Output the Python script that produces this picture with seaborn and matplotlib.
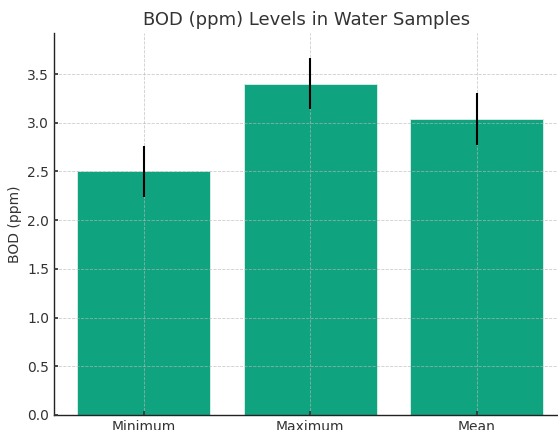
import pandas as pd
import matplotlib
matplotlib.use("Agg")
import matplotlib.pyplot as plt
import seaborn as sns

# data
stats = ["Minimum", "Maximum", "Mean"]
bod_ppm = [2.5, 3.4, 3.04]
bod_err = [0.26, 0.26, 0.265]

df = pd.DataFrame({"stat": stats, "bod": bod_ppm})

sns.set_theme(style="white")
plt.rcParams["font.family"] = ["DejaVu Sans"]
plt.rcParams["text.color"] = "#333333"
plt.rcParams["axes.labelcolor"] = "#333333"
plt.rcParams["xtick.color"] = "#333333"
plt.rcParams["ytick.color"] = "#333333"

fig = plt.figure(figsize=(5.58, 4.3), dpi=100)
ax = fig.add_axes([0.097, 0.035, 0.903, 0.888])

sns.barplot(ax=ax, data=df, x="stat", y="bod", color="#10a37f", saturation=1,
            width=0.8, edgecolor="#dff2ea", linewidth=0.6)
ax.errorbar(range(len(stats)), bod_ppm, yerr=bod_err, fmt="none",
            ecolor="black", elinewidth=1.5, capsize=0, zorder=4)

ax.set_title("BOD (ppm) Levels in Water Samples", fontsize=13, pad=6)
ax.set_xlabel("")
ax.set_ylabel("BOD (ppm)", fontsize=10)
ax.set_xlim(-0.54, 2.49)
ax.set_ylim(0, 3.92)
ax.set_yticks([0, 0.5, 1.0, 1.5, 2.0, 2.5, 3.0, 3.5])
ax.tick_params(direction="in", length=3, labelsize=10, left=True, bottom=True)

ax.set_axisbelow(False)
ax.grid(True, linestyle="--", color="#b8b8b8", linewidth=0.6, alpha=0.7)
for side in ["top", "right"]:
    ax.spines[side].set_visible(False)
for side in ["left", "bottom"]:
    ax.spines[side].set_color("#222222")
    ax.spines[side].set_linewidth(1.0)

fig.savefig("out.png", dpi=100)
